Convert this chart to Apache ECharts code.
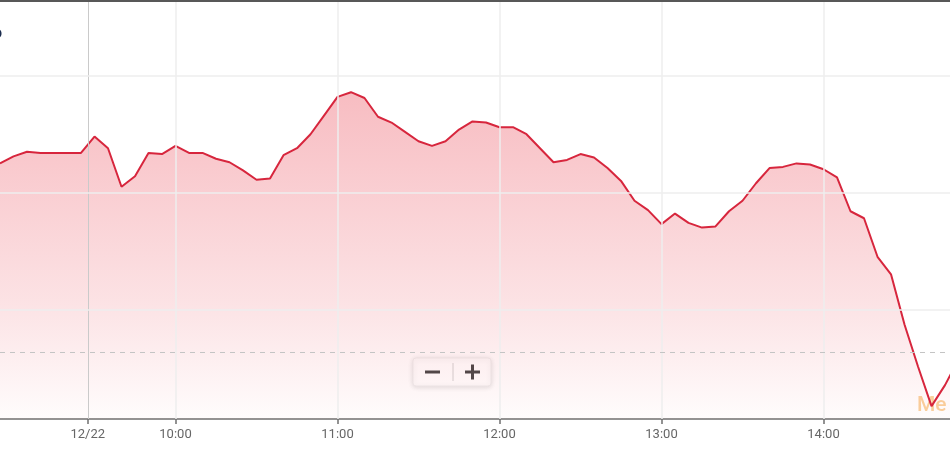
<!DOCTYPE html>
<html>
<head>
<meta charset="utf-8">
<script src="https://cdn.jsdelivr.net/npm/echarts@6/dist/echarts.min.js"></script>
<style>
  html, body { margin: 0; padding: 0; background: #fff; }
  #chart { width: 950px; height: 450px; }
</style>
</head>
<body>
<div id="chart"></div>
<script>
//数据 : 前一日尾盘 + 12/22 当日 5分钟价格
var times = [
    '15:25', '15:30', '15:35', '15:40', '15:45', '15:50', '15:55',
    '09:30', '09:35', '09:40', '09:45', '09:50', '09:55',
    '10:00', '10:05', '10:10', '10:15', '10:20', '10:25', '10:30', '10:35', '10:40', '10:45', '10:50', '10:55',
    '11:00', '11:05', '11:10', '11:15', '11:20', '11:25', '11:30', '11:35', '11:40', '11:45', '11:50', '11:55',
    '12:00', '12:05', '12:10', '12:15', '12:20', '12:25', '12:30', '12:35', '12:40', '12:45', '12:50', '12:55',
    '13:00', '13:05', '13:10', '13:15', '13:20', '13:25', '13:30', '13:35', '13:40', '13:45', '13:50', '13:55',
    '14:00', '14:05', '14:10', '14:15', '14:20', '14:25', '14:30', '14:35', '14:40', '14:45', '14:50'
];
var prices = [
    175.25, 175.31, 175.35, 175.34, 175.34, 175.34, 175.34,
    175.48, 175.38, 175.05, 175.14, 175.34, 175.33,
    175.40, 175.34, 175.34, 175.29, 175.26, 175.19, 175.11, 175.12, 175.32, 175.38, 175.50, 175.66,
    175.82, 175.86, 175.81, 175.65, 175.60, 175.52, 175.44, 175.40, 175.44, 175.54, 175.61, 175.60,
    175.56, 175.56, 175.50, 175.38, 175.26, 175.28, 175.33, 175.30, 175.21, 175.10, 174.93, 174.85,
    174.73, 174.82, 174.74, 174.70, 174.71, 174.84, 174.93, 175.08, 175.21, 175.22, 175.25, 175.24,
    175.20, 175.13, 174.84, 174.78, 174.45, 174.30, 173.87, 173.51, 173.17, 173.35, 173.57
];
var prevClose   = 173.63;
var dateLabel   = '12/22';
var hourLabels  = ['10:00', '11:00', '12:00', '13:00', '14:00'];
var priceLines  = [174, 175, 176];

//刻度位置 : 日期分隔在开盘点之前半格
var dayStart = times.indexOf('09:30') - 0.5;
var tickPos = [dayStart];
var tickText = {};
tickText[dayStart] = dateLabel;
for (var i = 0; i < hourLabels.length; i++) {
    var p = times.indexOf(hourLabels[i]);
    tickPos.push(p);
    tickText[p] = hourLabels[i];
}

var seriesData = [];
for (var i = 0; i < prices.length; i++) seriesData.push([i, prices[i]]);

//网格线
var gridLines = [{xAxis: dayStart, lineStyle: {color: '#cacaca', width: 1}}];
for (var i = 1; i < tickPos.length; i++) gridLines.push({xAxis: tickPos[i]});
for (var i = 0; i < priceLines.length; i++) gridLines.push({yAxis: priceLines[i]});

var chart = echarts.init(document.getElementById('chart'), null, {renderer: 'canvas'});
chart.setOption({
    animation: false,
    backgroundColor: '#fff',
    grid: {left: 0, top: 0, width: 84 * 13.5, height: 419, outerBoundsMode: 'none'},
    xAxis: {
        type: 'value',
        min: 0,
        max: 84,
        splitLine: {show: false},
        axisLine: {lineStyle: {color: '#6f6f6f', width: 1.5}},
        axisTick: {show: true, length: 5, customValues: tickPos, lineStyle: {color: '#6f6f6f', width: 1.5}},
        axisLabel: {
            customValues: tickPos,
            margin: 9,
            color: '#666',
            fontSize: 13,
            fontFamily: 'Roboto',
            formatter: function (v) { return tickText[v] || ''; }
        }
    },
    yAxis: {
        type: 'value',
        min: 173.06,
        max: 176.65,
        show: false,
        splitLine: {show: false}
    },
    graphic: [
        {type: 'text', z: 0, x: 917, y: 395, style: {text: 'Me', font: '500 21px Roboto', fill: 'rgba(247,178,92,0.6)'}},
        {type: 'text', z: 10, x: -7, y: 26, style: {text: 'o', font: 'bold 16px Roboto', fill: '#1c2d4f'}},
        {type: 'rect', z: 10, shape: {x: 0, y: 0, width: 950, height: 2}, style: {fill: '#585858'}},
        {
            type: 'group', z: 10,
            children: [
                {type: 'rect', shape: {x: 413, y: 358, width: 78, height: 28, r: 3},
                 style: {fill: '#fff', stroke: '#ededed', shadowBlur: 5, shadowColor: 'rgba(0,0,0,0.12)', shadowOffsetY: 1}},
                {type: 'line', shape: {x1: 453, y1: 363, x2: 453, y2: 381}, style: {stroke: '#d2d2d2', lineWidth: 1}},
                //减号
                {type: 'rect', shape: {x: 425, y: 370.5, width: 15, height: 3}, style: {fill: '#484848'}},
                //加号
                {type: 'rect', shape: {x: 465, y: 370.5, width: 15, height: 3}, style: {fill: '#484848'}},
                {type: 'rect', shape: {x: 471, y: 364.5, width: 3, height: 15}, style: {fill: '#484848'}}
            ]
        }
    ],
    series: [
        {
            //背景网格
            type: 'line',
            z: 1,
            data: seriesData,
            showSymbol: false,
            silent: true,
            lineStyle: {opacity: 0},
            markLine: {
                silent: true,
                symbol: 'none',
                label: {show: false},
                lineStyle: {color: '#eeeeee', width: 1.5, type: 'solid'},
                data: gridLines
            }
        },
        {
            type: 'line',
            z: 2,
            data: seriesData,
            showSymbol: false,
            lineStyle: {color: '#d7263d', width: 2},
            areaStyle: {
                color: new echarts.graphic.LinearGradient(0, 0, 0, 1, [
                    {offset: 0,    color: 'rgba(232,48,64,0.46)'},
                    {offset: 0.64, color: 'rgba(232,48,64,0.2)'},
                    {offset: 1,    color: 'rgba(232,48,64,0.02)'}
                ])
            },
            markLine: {
                silent: true,
                symbol: 'none',
                label: {show: false},
                lineStyle: {color: '#c4c4c4', width: 1, type: [5, 5]},
                data: [{yAxis: prevClose}]
            }
        }
    ]
});
</script>
</body>
</html>
